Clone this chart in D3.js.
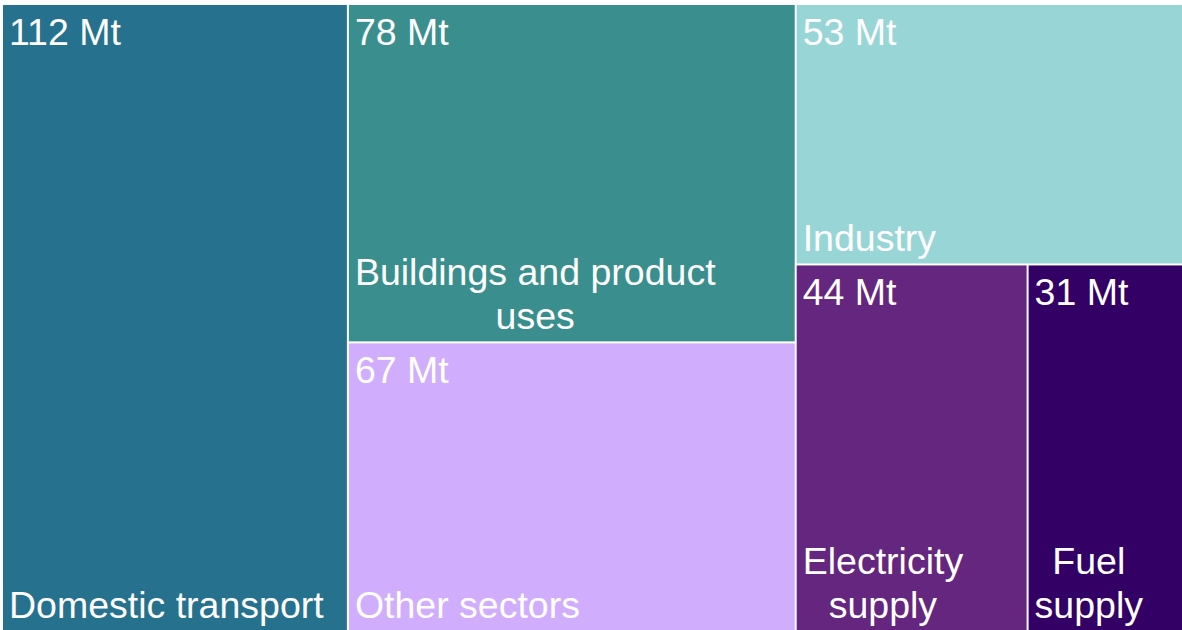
<!DOCTYPE html>
<html>
<head>
<meta charset="utf-8">
<script src="https://cdn.jsdelivr.net/npm/d3@7.9.0/dist/d3.min.js"></script>
<style>
  body { margin: 0; background: #fff; }
  svg { display: block; }
  text { font-family: "Liberation Sans", Arial, sans-serif; fill: #fff; }
</style>
</head>
<body>
<svg width="1182" height="630"></svg>
<script>
const sectors = ["Domestic transport", "Buildings and product uses", "Other sectors", "Industry", "Electricity supply", "Fuel supply"];
const emissions = [112, 78, 67, 53, 44, 31];
const colours = ["#26718e", "#3a8f8e", "#d1adfe", "#98d5d7", "#65267f", "#330066"];
const labelLines = [["Domestic transport"], ["Buildings and product", "uses"], ["Other sectors"], ["Industry"], ["Electricity", "supply"], ["Fuel", "supply"]];
// nesting of the tiles (indexes into the arrays above)
const groups = [0, [1, 2], [3, [4, 5]]];

const svg = d3.select("svg");

function build(g) {
    if (Array.isArray(g)) return {children: g.map(build)};
    return {i: g, value: emissions[g]};
}

const root = d3.hierarchy(build(groups))
    .sum(d => d.value || 0);

// the chart runs a little past the right and bottom edges
d3.treemap()
    .tile(d3.treemapSliceDice)
    .size([1187, 627])
    .paddingInner(2)(root);

const leaves = root.leaves();

const cell = svg.append("g")
    .attr("transform", "translate(3,5)")
    .selectAll("g")
    .data(leaves)
    .join("g")
    .attr("transform", d => `translate(${d.x0},${d.y0})`);

cell.append("rect")
    .attr("width", d => d.x1 - d.x0)
    .attr("height", d => d.y1 - d.y0)
    .attr("fill", d => colours[d.data.i]);

cell.append("text")
    .attr("x", 6)
    .attr("y", 40)
    .attr("font-size", 37.5)
    .text(d => emissions[d.data.i] + " Mt");

cell.each(function(d) {
    const g = d3.select(this);
    const lines = labelLines[d.data.i];
    const h = Math.min(d.y1, 625) - d.y0;
    const t = g.append("text").attr("font-size", 37.5);
    const spans = t.selectAll("tspan")
        .data(lines)
        .join("tspan")
        .attr("y", (l, k) => h - 12 - (lines.length - 1 - k) * 44)
        .text(l => l);
    let widths = [];
    spans.each(function() { widths.push(this.getComputedTextLength()); });
    const maxW = d3.max(widths);
    spans.attr("x", 6 + maxW / 2).attr("text-anchor", "middle");
});
</script>
</body>
</html>
